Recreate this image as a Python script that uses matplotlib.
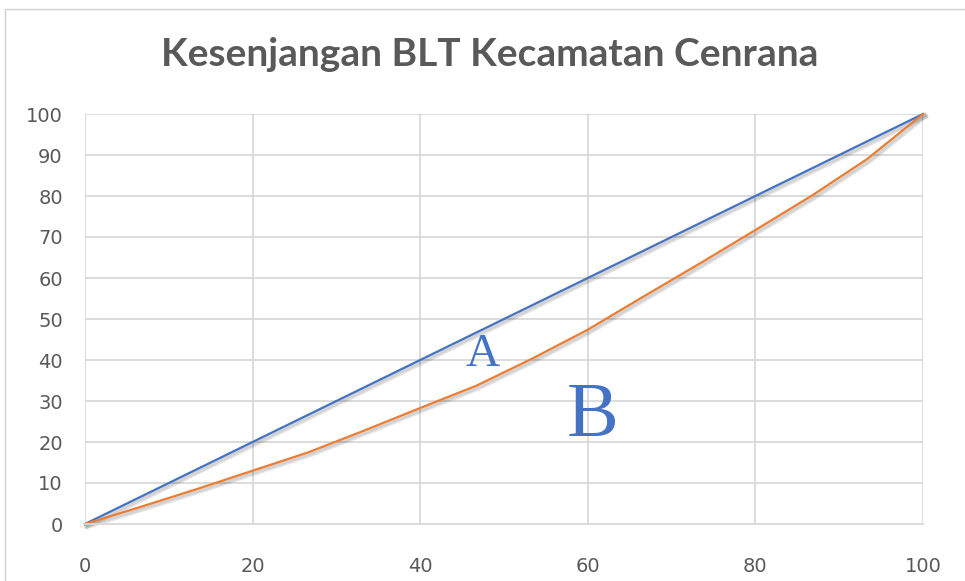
import matplotlib.pyplot as plt
import matplotlib.patches as mpatches
import matplotlib.patheffects as pe

# ── Data ────────────────────────────────────────────────────────────────
pop_pct = [0, 6.67, 13.33, 20, 26.67, 33.33, 40, 46.67, 53.33, 60,
           66.67, 73.33, 80, 86.67, 93.33, 100]
equality = [0, 6.67, 13.33, 20, 26.67, 33.33, 40, 46.67, 53.33, 60,
            66.67, 73.33, 80, 86.67, 93.33, 100]
lorenz = [0, 4.2, 8.5, 13.0, 17.5, 22.8, 28.3, 33.7, 40.3, 47.4,
          55.5, 63.5, 71.7, 80.0, 89.0, 100]

x_ticks = [0, 20, 40, 60, 80, 100]
y_ticks = [0, 10, 20, 30, 40, 50, 60, 70, 80, 90, 100]

TITLE = "Kesenjangan BLT Kecamatan Cenrana"
GRAY_TXT = "#595959"
GRID = "#d9d9d9"
BLUE = "#4472C4"
ORANGE = "#ED7D31"


def main():
    fig = plt.figure(figsize=(9.65, 5.81), dpi=100)
    fig.patch.set_facecolor("white")

    # chart area border (Excel style)
    fig.patches.append(mpatches.Rectangle(
        (5 / 965, -0.05), 1.2, 1 - 9 / 581 + 0.05, transform=fig.transFigure,
        fc="none", ec="#d0d0d0", lw=1.0))

    ax = fig.add_axes([85 / 965, 1 - 524 / 581, 838 / 965, 410 / 581])
    ax.set_xlim(0, 100)
    ax.set_ylim(0, 100)
    ax.set_xticks(x_ticks)
    ax.set_yticks(y_ticks)
    ax.grid(True, color=GRID, lw=1.3)
    ax.set_axisbelow(True)
    for s in ("left", "top", "right"):
        ax.spines[s].set_visible(False)
    ax.spines["bottom"].set_color(GRID)
    ax.spines["bottom"].set_linewidth(1.3)
    ax.tick_params(length=0, labelsize=14, labelcolor=GRAY_TXT)
    ax.tick_params(axis="y", pad=16)
    ax.tick_params(axis="x", pad=24)

    # soft drop shadow like the Excel line effect
    shadow = [pe.SimpleLineShadow(offset=(1.5, -1.5), shadow_color="black", alpha=0.10, linewidth=4),
              pe.SimpleLineShadow(offset=(1.5, -1.5), shadow_color="black", alpha=0.08, linewidth=2),
              pe.Normal()]
    ax.plot(pop_pct, equality, color=BLUE, lw=1.6, path_effects=shadow, clip_on=False)
    ax.plot(pop_pct, lorenz, color=ORANGE, lw=1.6, path_effects=shadow, clip_on=False)

    ax.text(47.4, 41.2, "A", ha="center", va="center", fontsize=34,
            family="Liberation Serif", color=BLUE)
    ax.text(60.6, 26.1, "B", ha="center", va="center", fontsize=56,
            family="Liberation Serif", color=BLUE)

    fig.text(490 / 965, 1 - 55 / 581, TITLE, ha="center", va="center",
             fontsize=28, fontweight="bold", family="Lato", color=GRAY_TXT)

    fig.savefig("out.png", dpi=100)
    plt.close(fig)


if __name__ == "__main__":
    main()
